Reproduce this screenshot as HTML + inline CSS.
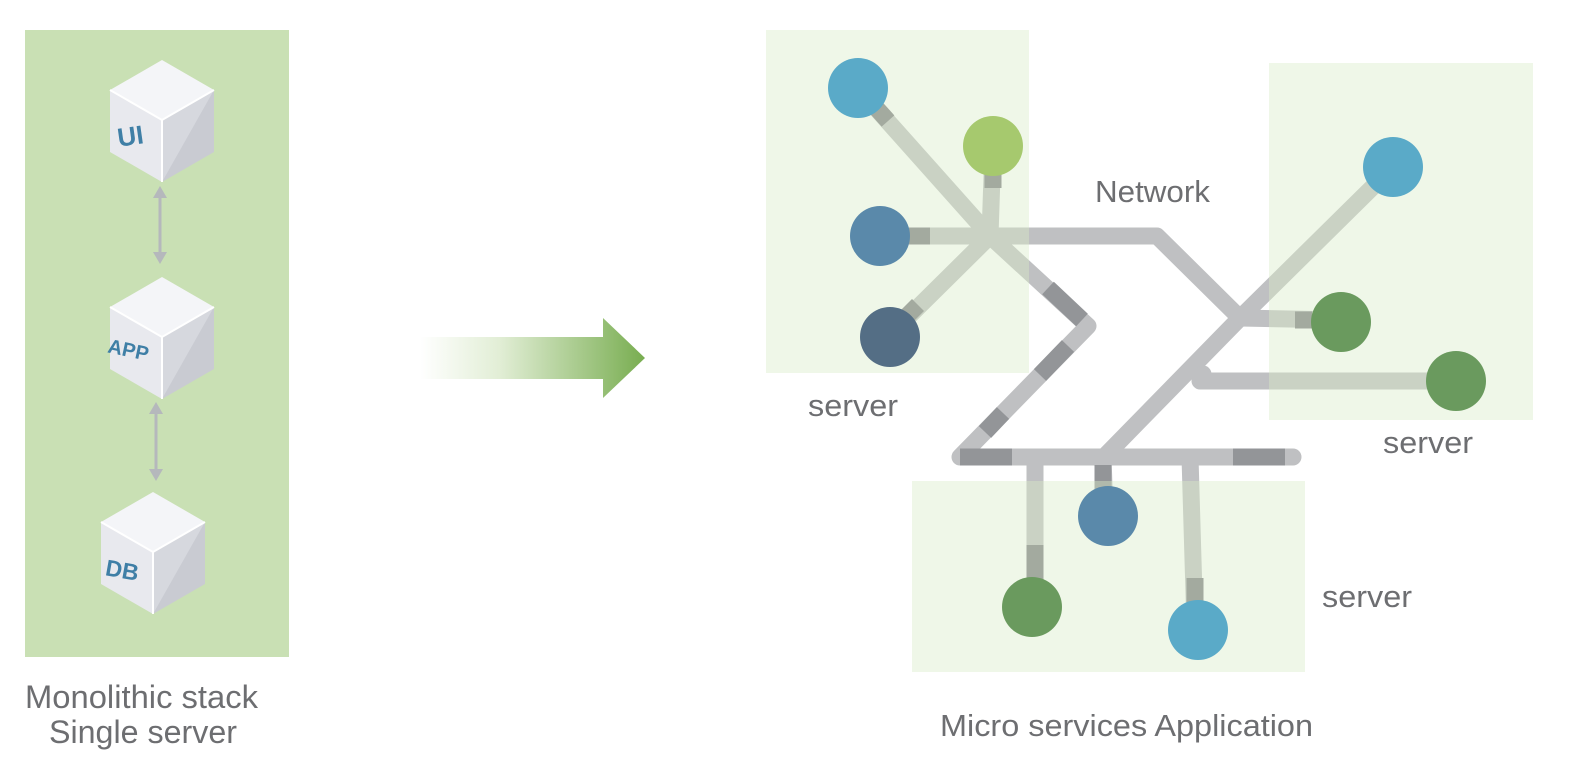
<!DOCTYPE html>
<html><head><meta charset="utf-8"><style>
html,body{margin:0;padding:0;background:#fff;}
svg{display:block;}
text{font-family:"Liberation Sans",sans-serif;fill:#6d6e71;}
</style></head><body>
<svg width="1574" height="780" viewBox="0 0 1574 780" xmlns="http://www.w3.org/2000/svg">
<defs>
<linearGradient id="ag" x1="420" y1="0" x2="645" y2="0" gradientUnits="userSpaceOnUse">
<stop offset="0" stop-color="#ffffff"/><stop offset="0.35" stop-color="#e2eed6"/><stop offset="1" stop-color="#78ad50"/>
</linearGradient>
<g id="cube">
<polygon points="0,-60 52,-30 0,0 -52,-30" fill="#f4f5f8"/>
<polygon points="-52,-30 0,0 0,62 -52,32" fill="#e8e9ee"/>
<polygon points="52,-30 0,0 0,62 52,32" fill="#c9cbd2"/>
<polygon points="52,-30 0,0 0,62" fill="#d6d8de"/>
<polyline points="-52,-30 0,0 52,-30" fill="none" stroke="#fff" stroke-width="2"/>
<line x1="0" y1="0" x2="0" y2="62" stroke="#fff" stroke-width="2"/>
</g>
</defs>
<rect x="25" y="30" width="264" height="627" fill="#c9e0b4"/>
<use href="#cube" x="162" y="120"/>
<use href="#cube" x="162" y="337"/>
<use href="#cube" x="153" y="552"/>
<text x="117" y="145" font-size="26" font-weight="bold" style="fill:#3f7fa6" transform="rotate(-8 130 133)">UI</text>
<text x="108" y="358" font-size="20" font-weight="bold" style="fill:#3f7fa6" transform="rotate(12 135 350)">APP</text>
<text x="106" y="578" font-size="23" font-weight="bold" style="fill:#3f7fa6" transform="rotate(10 122 568)">DB</text>
<g stroke="#b5b8bc" stroke-width="3" fill="#b5b8bc">
<line x1="160" y1="195" x2="160" y2="255"/>
<polygon points="160,186 153,198 167,198" stroke="none"/>
<polygon points="160,264 153,252 167,252" stroke="none"/>
<line x1="156" y1="411" x2="156" y2="472"/>
<polygon points="156,402 149,414 163,414" stroke="none"/>
<polygon points="156,481 149,469 163,469" stroke="none"/>
</g>
<text x="25" y="708" font-size="32" textLength="233" lengthAdjust="spacingAndGlyphs">Monolithic stack</text>
<text x="49" y="743" font-size="32" textLength="188" lengthAdjust="spacingAndGlyphs">Single server</text>
<polygon points="420,337 603,337 603,318 645,358 603,398 603,379 420,379" fill="url(#ag)"/>
<g fill="none" stroke="#bfc0c2" stroke-width="17" stroke-linecap="round" stroke-linejoin="round">
<polyline points="990,236 1157,236 1240,318 1105,456"/>
<polyline points="990,236 1088,326 960,457 1293,457"/>
<line x1="1240" y1="318" x2="1393" y2="167"/>
<line x1="1240" y1="318" x2="1340" y2="320"/>
<polyline points="1203,374 1200,381 1455,381"/>
<line x1="1035" y1="457" x2="1035" y2="606"/>
<line x1="1103" y1="457" x2="1105" y2="515"/>
<line x1="1190" y1="457" x2="1195" y2="628"/>
<line x1="990" y1="236" x2="858" y2="88"/>
<line x1="990" y1="236" x2="993" y2="145"/>
<line x1="990" y1="236" x2="880" y2="236"/>
<line x1="990" y1="236" x2="890" y2="335"/>
</g>
<g fill="none" stroke="#939598" stroke-width="17">
<line x1="1048" y1="288" x2="1082" y2="320"/>
<line x1="1040" y1="375" x2="1068" y2="346"/>
<line x1="985" y1="432" x2="1003" y2="413"/>
<line x1="960" y1="457" x2="1012" y2="457"/>
<line x1="1233" y1="457" x2="1285" y2="457"/>
<line x1="1103" y1="465" x2="1103" y2="490"/>
</g>
<g fill="#d8ebc8" fill-opacity="0.42">
<rect x="766" y="30" width="263" height="343"/>
<rect x="1269" y="63" width="264" height="357"/>
<rect x="912" y="481" width="393" height="191"/>
</g>
<g fill="none" stroke="#a3aa9f" stroke-width="17">
<line x1="870" y1="101" x2="888" y2="121"/>
<line x1="993" y1="174" x2="993" y2="188"/>
<line x1="909" y1="236" x2="930" y2="236"/>
<line x1="905" y1="318" x2="918" y2="305"/>
<line x1="1295" y1="320" x2="1312" y2="320"/>
<line x1="1035" y1="545" x2="1035" y2="580"/>
<line x1="1195" y1="578" x2="1195" y2="602"/>
</g>
<circle cx="858" cy="88" r="30" fill="#5aaac8"/>
<circle cx="993" cy="146" r="30" fill="#a6c96e"/>
<circle cx="880" cy="236" r="30" fill="#5a89aa"/>
<circle cx="890" cy="337" r="30" fill="#546e85"/>
<circle cx="1393" cy="167" r="30" fill="#5aaac8"/>
<circle cx="1341" cy="322" r="30" fill="#6a9a5e"/>
<circle cx="1456" cy="381" r="30" fill="#6a9a5e"/>
<circle cx="1108" cy="516" r="30" fill="#5a89aa"/>
<circle cx="1032" cy="607" r="30" fill="#6a9a5e"/>
<circle cx="1198" cy="630" r="30" fill="#5aaac8"/>
<text x="1095" y="202" font-size="31" textLength="115" lengthAdjust="spacingAndGlyphs">Network</text>
<text x="808" y="416" font-size="31" textLength="90" lengthAdjust="spacingAndGlyphs">server</text>
<text x="1383" y="453" font-size="31" textLength="90" lengthAdjust="spacingAndGlyphs">server</text>
<text x="1322" y="607" font-size="31" textLength="90" lengthAdjust="spacingAndGlyphs">server</text>
<text x="940" y="736" font-size="31" textLength="373" lengthAdjust="spacingAndGlyphs">Micro services Application</text>
</svg>
</body></html>
